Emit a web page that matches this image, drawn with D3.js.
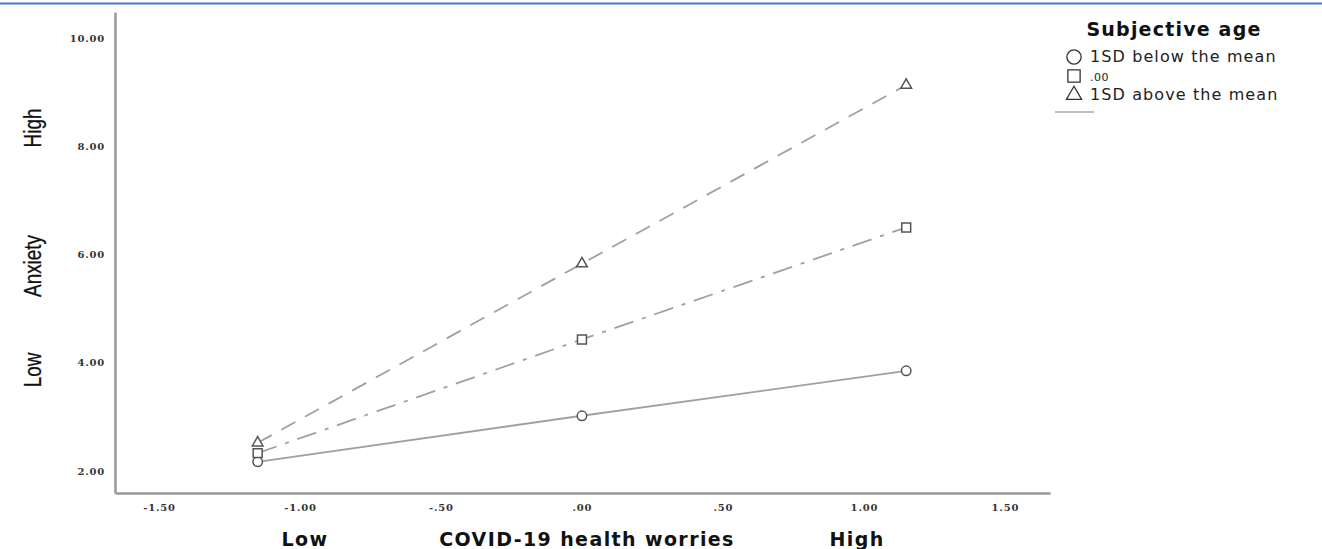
<!DOCTYPE html>
<html><head><meta charset="utf-8">
<script src="https://cdn.jsdelivr.net/npm/d3@7"></script>
<style>body{margin:0;background:#fff;} svg{display:block;}</style>
</head><body>
<script>
const xValues = [-1.15, 0, 1.15];
const seriesNames = ["1SD below the mean", ".00", "1SD above the mean"];
const belowMean = [2.17, 3.02, 3.85];
const atMean = [2.33, 4.43, 6.50];
const aboveMean = [2.52, 5.83, 9.13];
const xTicks = [-1.5, -1.0, -0.5, 0, 0.5, 1.0, 1.5];
const yTicks = [2, 4, 6, 8, 10];

const W = 1322, H = 549;
const svg = d3.select("body").append("svg").attr("width", W).attr("height", H);

svg.append("line").attr("x1",0).attr("x2",W).attr("y1",3.5).attr("y2",3.5)
  .attr("stroke","#4a78c4").attr("stroke-width",2);

const x = d3.scaleLinear().domain([-1.656, 1.66]).range([115, 1050]);
const y = d3.scaleLinear().domain([1.593, 10.48]).range([493, 12]);

const fmt = v => {
  if (v === 0) return ".00";
  const s = Math.abs(v).toFixed(2);
  const t = Math.abs(v) < 1 ? s.slice(1) : s;
  return (v < 0 ? "-" : "") + t;
};

const gx = svg.append("g").attr("transform","translate(0,493)")
  .call(d3.axisBottom(x).tickValues(xTicks).tickFormat(fmt).tickSize(0).tickPadding(11));
const gy = svg.append("g").attr("transform","translate(115,0)")
  .call(d3.axisLeft(y).tickValues(yTicks).tickFormat(d => d.toFixed(2)).tickSize(0).tickPadding(10));
[gx, gy].forEach(g => {
  g.select(".domain").attr("stroke","#999").attr("stroke-width",2.5);
  g.selectAll("text").attr("font-family","DejaVu Serif").attr("font-size",10)
    .attr("letter-spacing",0.8).attr("fill","#333").attr("font-weight","bold");
});

const series = [
  {vals: belowMean, dash: null, shape: "circle"},
  {vals: atMean, dash: "20,9,4,9", shape: "square"},
  {vals: aboveMean, dash: "16,11", shape: "triangle"}
];
const line = d3.line().x((d,i) => x(xValues[i])).y(d => y(d));
series.forEach(s => {
  svg.append("path").datum(s.vals).attr("d", line).attr("fill","none")
    .attr("stroke","#a0a0a0").attr("stroke-width",1.8)
    .attr("stroke-dasharray", s.dash);
});
const sym = {circle: d3.symbolCircle, square: d3.symbolSquare, triangle: d3.symbolTriangle};
const sizes = {circle: 70, square: 80, triangle: 50};
series.forEach(s => {
  svg.selectAll(null).data(s.vals).enter().append("path")
    .attr("d", d3.symbol().type(sym[s.shape]).size(sizes[s.shape]))
    .attr("transform", (d,i) => `translate(${x(xValues[i])},${y(d)})`)
    .attr("fill","#fff").attr("stroke","#555").attr("stroke-width",1.5);
});

// Axis titles
const tf = "DejaVu Sans";
[{t:"Low", x:305}, {t:"COVID-19 health worries", x:587}, {t:"High", x:857}].forEach(l => {
  svg.append("text").attr("x",l.x).attr("y",546).attr("text-anchor","middle")
    .attr("font-family",tf).attr("font-weight","bold").attr("font-size",19)
    .attr("letter-spacing",1.4).attr("fill","#111").text(l.t);
});

const yLabels = [{t:"High", c:128}, {t:"Anxiety", c:266}, {t:"Low", c:370}];
yLabels.forEach(l => {
  svg.append("text").attr("transform",`translate(41,${l.c}) rotate(-90) scale(0.82,1)`)
    .attr("text-anchor","middle").attr("font-family","Liberation Sans")
    .attr("font-size",23).attr("stroke","#111").attr("stroke-width",0.3)
    .attr("fill","#111").text(l.t);
});

// Legend
svg.append("text").attr("x",1174).attr("y",36).attr("text-anchor","middle")
  .attr("font-family","DejaVu Sans").attr("font-weight","bold").attr("font-size",19)
  .attr("letter-spacing",1.2).attr("fill","#111").text("Subjective age");
const legY = [57, 76, 95];
const legShapes = ["circle","square","triangle"];
const legSizes = {circle: 160, square: 150, triangle: 100};
seriesNames.forEach((n,i) => {
  svg.append("path").attr("d", d3.symbol().type(sym[legShapes[i]]).size(legSizes[legShapes[i]]))
    .attr("transform",`translate(1074,${legY[i]})`).attr("fill","none")
    .attr("stroke","#333").attr("stroke-width",1.3);
  svg.append("text").attr("x",1090).attr("y",legY[i]+5)
    .attr("font-family","DejaVu Sans").attr("font-size", i===1 ? 11 : 16)
    .attr("letter-spacing", i===1 ? 0.5 : 1.1)
    .attr("fill","#222").text(n);
});
svg.append("line").attr("x1",1055).attr("x2",1094).attr("y1",112).attr("y2",112)
  .attr("stroke","#aaa").attr("stroke-width",1.5);
</script>
</body></html>
